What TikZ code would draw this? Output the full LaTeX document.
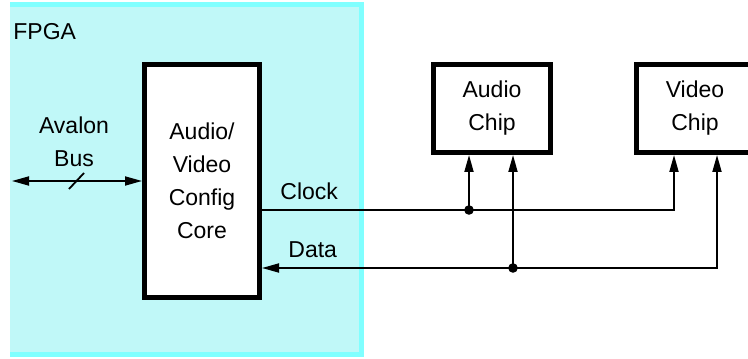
\documentclass[tikz,border=0pt]{standalone}
\usepackage{fontspec}
\setmainfont{Liberation Sans}
\usepackage{xcolor}
\usetikzlibrary{arrows.meta, positioning}

\definecolor{fpgafill}{RGB}{192,248,248}
\definecolor{fpgaedge}{RGB}{128,255,255}

\begin{document}
\begin{tikzpicture}[
  x=0.5pt, y=0.5pt,
  font=\fontsize{11.5}{16.5}\selectfont,
  block/.style={rectangle, draw=black, line width=2.5pt, fill=white,
                align=center, inner sep=0pt},
  chip/.style={block, minimum width=58.5pt, minimum height=44pt},
  lbl/.style={align=center, inner sep=0pt},
  arr/.style={-{Triangle[length=8.5pt, width=4.5pt]}, line width=0.9pt},
  arrs/.style={{Triangle[length=8.5pt, width=4.5pt]}-{Triangle[length=8.5pt, width=4.5pt]},
               line width=0.9pt},
  wire/.style={line width=0.9pt},
  dot/.style={circle, fill=black, inner sep=0pt, minimum size=4.8pt}
]
\useasboundingbox (0,0) rectangle (748,358);

% ---- FPGA region ----
\fill[fpgafill] (10,3.5) rectangle (361,353);
\draw[fpgaedge, line width=2.5pt] (10,353) -- (361,353) -- (361,3.5) -- (10,3.5);
\node[lbl, anchor=base west] (fpga) at (13,318) {FPGA};

% ---- Config core ----
\node[block, minimum width=57.5pt, minimum height=116.5pt] (core) at (202,177)
  {Audio/\\Video\\Config\\Core};

% ---- Chips ----
\node[chip, below right=0pt and 84.5pt of core.north east] (audio) {Audio\\Chip};
\node[chip, right=40.5pt of audio] (video) {Video\\Chip};

% ---- Avalon bus ----
\coordinate (avalon) at (12,177);
\coordinate (busmid) at (77,177);
\draw[arrs] (avalon) -- (core.west);
\draw[wire] ([shift={(-8,-8)}]busmid) -- ([shift={(7,8)}]busmid);
\node[lbl, above=7pt of busmid, xshift=-1.5pt] (bus) {Avalon\\Bus};

% ---- Clock and data wires ----
\coordinate (clk)  at ([yshift=-14.5pt]core.east);
\coordinate (dat)  at ([yshift=-43.5pt]core.east);
\coordinate (ain1) at ([xshift=-11.5pt]audio.south);
\coordinate (ain2) at ([xshift=10.5pt]audio.south);
\coordinate (vin1) at ([xshift=-10.5pt]video.south);
\coordinate (vin2) at ([xshift=11pt]video.south);

\draw[arr] (clk) -| (vin1);
\draw[arr] (clk -| ain1) -- (ain1);
\node[dot] (clkdot) at (clk -| ain1) {};

\draw[arrs] (vin2) |- (dat);
\draw[arr] (dat -| ain2) -- (ain2);
\node[dot] (datdot) at (dat -| ain2) {};

\node[lbl, above right=5pt and 9pt of clk]  (clklbl) {Clock};
\node[lbl, above right=5pt and 13pt of dat] (datlbl) {Data};

\end{tikzpicture}
\end{document}
